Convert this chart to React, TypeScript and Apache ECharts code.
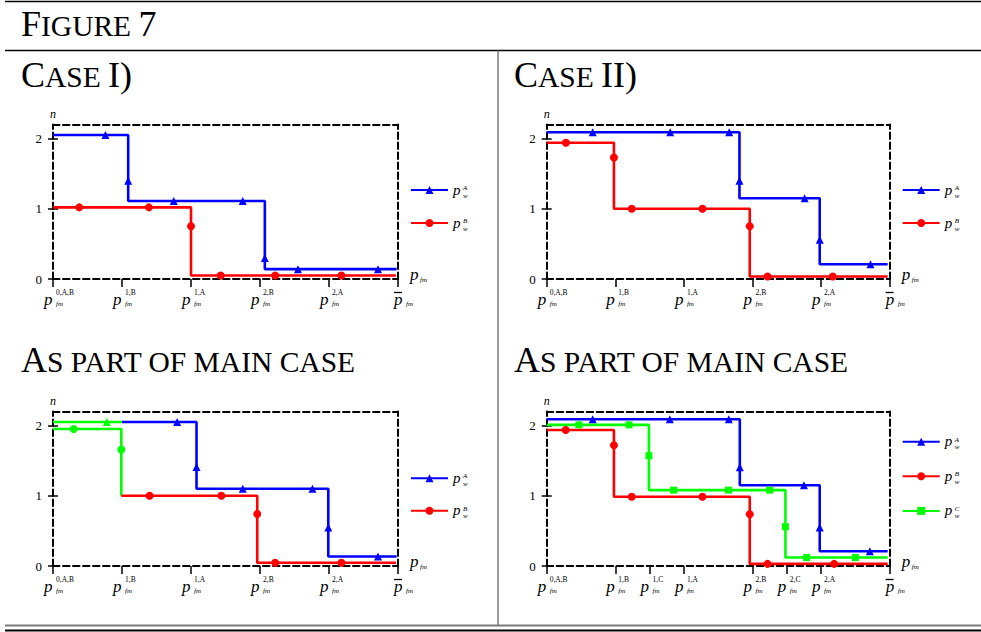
import { useEffect, useRef } from 'react';
import * as echarts from 'echarts';

const SERIF = "'Liberation Serif', 'Times New Roman', serif";
const BLUE = '#0000ff';
const RED = '#ff0000';
const GREEN = '#00ff00';

// ---------- axes ----------
const Y_MIN = 0;
const Y_MAX = 2.2;
const X_MIN = 0;
const X_MAX = 5;
const yTickValues = [0, 1, 2];
const xTicksAB = [0, 1, 2, 3, 4, 5];
// '' marks the p-bar (upper bound) tick
const xSupAB = ['0,A,B', '1,B', '1,A', '2,B', '2,A', ''];
const xTicksABC = [0, 1, 1.5, 2, 3, 3.5, 4, 5];
const xSupABC = ['0,A,B', '1,B', '1,C', '1,A', '2,B', '2,C', '2,A', ''];

// ---------- headings ----------
const figureHeading = ['F', 'IGURE ', '7'];
const caseOneHeading = ['C', 'ASE ', 'I)'];
const caseTwoHeading = ['C', 'ASE ', 'II)'];
const mainCaseHeading = ['A', 'S PART OF MAIN CASE', ''];

// ---------- Case I ----------
const c1A_path = [[0, 2.05], [1.09, 2.05], [1.09, 1.11], [3.07, 1.11], [3.07, 0.14], [4.98, 0.14]];
const c1A_marks = [[0.76, 2.05], [1.09, 1.4], [1.75, 1.11], [2.75, 1.11], [3.07, 0.3], [3.55, 0.14], [4.71, 0.14]];
const c1B_path = [[0, 1.02], [2.0, 1.02], [2.0, 0.05], [4.97, 0.05]];
const c1B_marks = [[0.38, 1.02], [1.39, 1.02], [2.0, 0.75], [2.43, 0.05], [3.22, 0.05], [4.18, 0.05]];

// ---------- Case II ----------
const c2A_path = [[0, 2.09], [2.81, 2.09], [2.81, 1.15], [3.98, 1.15], [3.98, 0.21], [4.97, 0.21]];
const c2A_marks = [[0.67, 2.09], [1.8, 2.09], [2.66, 2.09], [2.81, 1.4], [3.76, 1.15], [3.98, 0.56], [4.72, 0.21]];
const c2B_path = [[0, 1.94], [0.98, 1.94], [0.98, 1.0], [2.96, 1.0], [2.96, 0.035], [4.97, 0.035]];
const c2B_marks = [[0.28, 1.94], [0.98, 1.73], [1.24, 1.0], [2.27, 1.0], [2.96, 0.75], [3.22, 0.035], [4.17, 0.035]];

// ---------- Case I as part of main case ----------
const c3Ag_path = [[0, 2.05], [1.0, 2.05]];
const c3Ag_marks = [[0.78, 2.05]];
const c3A_path = [[1.0, 2.05], [2.08, 2.05], [2.08, 1.1], [3.99, 1.1], [3.99, 0.135], [4.98, 0.135]];
const c3A_marks = [[1.8, 2.05], [2.08, 1.41], [2.75, 1.1], [3.76, 1.1], [3.99, 0.55], [4.71, 0.135]];
const c3Bg_path = [[0, 1.95], [0.99, 1.95], [0.99, 1.0]];
const c3Bg_marks = [[0.3, 1.95], [0.99, 1.66]];
const c3B_path = [[0.99, 1.0], [2.96, 1.0], [2.96, 0.047], [4.97, 0.047]];
const c3B_marks = [[1.4, 1.0], [2.44, 1.0], [2.96, 0.74], [3.22, 0.047], [4.18, 0.047]];

// ---------- Case II as part of main case ----------
const c4A_path = [[0, 2.09], [2.815, 2.09], [2.815, 1.15], [3.98, 1.15], [3.98, 0.209], [4.97, 0.209]];
const c4A_marks = [[0.67, 2.09], [1.795, 2.09], [2.655, 2.09], [2.815, 1.405], [3.75, 1.15], [3.98, 0.55], [4.71, 0.209]];
const c4B_path = [[0, 1.937], [0.98, 1.937], [0.98, 0.987], [2.96, 0.987], [2.96, 0.03], [4.97, 0.03]];
const c4B_marks = [[0.277, 1.937], [0.98, 1.72], [1.24, 0.987], [2.27, 0.987], [2.96, 0.736], [3.22, 0.03], [4.19, 0.03]];
const c4C_path = [[0, 2.01], [1.49, 2.01], [1.49, 1.08], [3.48, 1.08], [3.48, 0.12], [4.97, 0.12]];
const c4C_marks = [[0.47, 2.01], [1.2, 2.01], [1.49, 1.57], [1.85, 1.08], [2.65, 1.08], [3.25, 1.08], [3.48, 0.56], [3.79, 0.12], [4.5, 0.12]];

type Pt = number[];

function merge(path: Pt[], marks: Pt[]) {
  const pts: any[] = path
    .map((p) => ({ value: p, symbol: 'none' }))
    .concat(marks.map((m) => ({ value: m })) as any);
  pts.sort((a, b) => a.value[0] - b.value[0] || b.value[1] - a.value[1]);
  return pts;
}

function curve(name: string, color: string, symbol: string, size: number, path: Pt[], marks: Pt[], gi: number) {
  return {
    type: 'line',
    name,
    xAxisIndex: gi * 2,
    yAxisIndex: gi * 3,
    data: merge(path, marks),
    symbol,
    symbolSize: size,
    showSymbol: true,
    showAllSymbol: true,
    lineStyle: { color, width: 2.6 },
    itemStyle: { color, borderWidth: 0 },
    emphasis: { disabled: true },
    silent: true,
    z: 3,
  };
}

const tickRich = {
  a: { width: 25, lineHeight: 3, align: 'left' },
  sup: { fontFamily: SERIF, fontSize: 7.5, lineHeight: 3, width: 19, color: '#000', align: 'left' },
  b: { width: 13, lineHeight: 10, align: 'left' },
  p: { fontFamily: SERIF, fontStyle: 'italic', fontSize: 17, lineHeight: 10, width: 12, color: '#000', align: 'left' },
  sub: { fontFamily: SERIF, fontStyle: 'italic', fontSize: 7, lineHeight: 10, padding: [10, 0, 0, 0], color: '#000', align: 'left' },
  a2: { width: 18, lineHeight: 3, align: 'left' },
  bar: { width: 8, height: 1.3, lineHeight: 3, backgroundColor: '#000', align: 'left' },
  pad: { width: 18, lineHeight: 3, align: 'left' },
  b2: { width: 18, lineHeight: 10, align: 'left' },
};

function tickFormatter(ticks: number[], sups: string[]) {
  return (v: number) => {
    const i = ticks.findIndex((t) => Math.abs(t - v) < 1e-9);
    const s = i >= 0 ? sups[i] : '';
    if (s === '') return '{a2|}{bar|}{pad|}\n{b2|}{p|p}{sub|fm}';
    return `{a|}{sup|${s}}\n{b|}{p|p}{sub|fm}`;
  };
}

const dash = { color: '#000', width: 2, type: [6.5, 3.5] };

function axesFor(gi: number, ticks: number[], sups: string[]) {
  const xAxes = [
    {
      type: 'value', gridIndex: gi, position: 'bottom', min: X_MIN, max: X_MAX,
      axisLine: { show: true, onZero: false, lineStyle: dash },
      axisTick: { show: true, inside: false, length: 8, customValues: ticks, lineStyle: { color: '#000', width: 1.5 } },
      axisLabel: {
        show: true, customValues: ticks, margin: 12, hideOverlap: false,
        formatter: tickFormatter(ticks, sups), rich: tickRich,
      },
      splitLine: { show: false },
      name: '{p|p}{sub|fm}', nameLocation: 'end', nameGap: 12, nameMoveOverlap: false,
      nameTextStyle: {
        verticalAlign: 'bottom', align: 'left',
        rich: {
          p: { fontFamily: SERIF, fontStyle: 'italic', fontSize: 17, lineHeight: 10, width: 10, color: '#000', align: 'left' },
          sub: { fontFamily: SERIF, fontStyle: 'italic', fontSize: 7, lineHeight: 10, padding: [12, 0, 0, 0], color: '#000', align: 'left' },
        },
      },
    },
    {
      type: 'value', gridIndex: gi, position: 'top', min: X_MIN, max: X_MAX,
      axisLine: { show: true, onZero: false, lineStyle: dash },
      axisTick: { show: false }, axisLabel: { show: false }, splitLine: { show: false },
    },
  ];
  const yAxes = [
    {
      type: 'value', gridIndex: gi, position: 'left', min: Y_MIN, max: Y_MAX,
      axisLine: { show: true, onZero: false, lineStyle: dash },
      axisTick: { show: true, inside: false, length: 5, customValues: yTickValues, lineStyle: { color: '#000', width: 1.5 } },
      axisLabel: { show: true, customValues: yTickValues, margin: 11, color: '#000', fontFamily: SERIF, fontSize: 13 },
      splitLine: { show: false },
      name: 'n', nameLocation: 'end', nameGap: 5, nameMoveOverlap: false,
      nameTextStyle: { fontFamily: SERIF, fontStyle: 'italic', fontSize: 12, color: '#000' },
    },
    {
      type: 'value', gridIndex: gi, position: 'left', offset: 0, min: Y_MIN, max: Y_MAX,
      axisLine: { show: false, onZero: false },
      axisTick: { show: true, inside: true, length: 5, customValues: yTickValues, lineStyle: { color: '#000', width: 1.5 } },
      axisLabel: { show: false }, splitLine: { show: false },
    },
    {
      type: 'value', gridIndex: gi, position: 'right', min: Y_MIN, max: Y_MAX,
      axisLine: { show: true, onZero: false, lineStyle: dash },
      axisTick: { show: false }, axisLabel: { show: false }, splitLine: { show: false },
    },
  ];
  return { xAxes, yAxes };
}

const legendRich = {
  p: { fontFamily: SERIF, fontStyle: 'italic', fontSize: 15, lineHeight: 6, width: 10, padding: [5, 0, 0, 0], color: '#000', align: 'left' },
  sup: { fontFamily: SERIF, fontStyle: 'italic', fontSize: 7, lineHeight: 6, padding: [2, 0, 0, 0], color: '#000', align: 'left' },
  s: { width: 10, lineHeight: 6, align: 'left' },
  sub: { fontFamily: SERIF, fontStyle: 'italic', fontSize: 7, lineHeight: 6, padding: [5, 0, 0, 0], color: '#000', align: 'left' },
};

function legendFor(names: string[], left: number, top: number, gap: number) {
  return {
    data: names, left, top, orient: 'vertical', padding: 0,
    itemWidth: 37, itemHeight: 10, itemGap: gap, selectedMode: false,
    formatter: (n: string) => `{p|p}{sup|${n}}\n{s|}{sub|w}`,
    textStyle: { color: '#000', rich: legendRich },
  };
}

function heading(parts: string[], x: number, yMid: number) {
  const [big1, small, big2] = parts;
  let text = `{B|${big1}}{s|${small}}`;
  if (big2) text += `{B|${big2}}`;
  return {
    type: 'text', x, y: yMid, silent: true,
    style: {
      text, align: 'left', verticalAlign: 'middle', fill: '#000',
      rich: {
        B: { fontFamily: SERIF, fontSize: 36, lineHeight: 36, fill: '#000', align: 'left' },
        s: { fontFamily: SERIF, fontSize: 29.5, lineHeight: 36, padding: [4.4, 0, 0, 0], fill: '#000', align: 'left' },
      },
    },
  };
}

function hline(x1: number, x2: number, y: number, color: string, w: number) {
  return { type: 'line', silent: true, shape: { x1, y1: y, x2, y2: y }, style: { stroke: color, lineWidth: w } };
}

function buildOption() {
  const grids = [
    { left: 53, top: 124.5, width: 345, height: 154.5 },
    { left: 546.7, top: 124.5, width: 343, height: 154.5 },
    { left: 53, top: 411.5, width: 345, height: 154.5 },
    { left: 546.7, top: 411.5, width: 343, height: 154.5 },
  ].map((g) => ({ ...g, show: false, containLabel: false, outerBoundsMode: 'none' }));

  const tickSets: [number[], string[]][] = [
    [xTicksAB, xSupAB], [xTicksAB, xSupAB], [xTicksAB, xSupAB], [xTicksABC, xSupABC],
  ];
  const xAxis: any[] = [];
  const yAxis: any[] = [];
  tickSets.forEach(([t, s], gi) => {
    const a = axesFor(gi, t, s);
    xAxis.push(...a.xAxes);
    yAxis.push(...a.yAxes);
  });

  const series = [
    curve('A', BLUE, 'triangle', 8, c1A_path, c1A_marks, 0),
    curve('B', RED, 'circle', 8, c1B_path, c1B_marks, 0),
    curve('A', BLUE, 'triangle', 8, c2A_path, c2A_marks, 1),
    curve('B', RED, 'circle', 8, c2B_path, c2B_marks, 1),
    curve('A (part)', GREEN, 'triangle', 8, c3Ag_path, c3Ag_marks, 2),
    curve('B (part)', GREEN, 'circle', 8, c3Bg_path, c3Bg_marks, 2),
    curve('A', BLUE, 'triangle', 8, c3A_path, c3A_marks, 2),
    curve('B', RED, 'circle', 8, c3B_path, c3B_marks, 2),
    curve('A', BLUE, 'triangle', 8, c4A_path, c4A_marks, 3),
    curve('B', RED, 'circle', 8, c4B_path, c4B_marks, 3),
    curve('C', GREEN, 'rect', 7, c4C_path, c4C_marks, 3),
  ];

  const legend = [
    legendFor(['A', 'B'], 410, 177, 11),
    legendFor(['A', 'B'], 901.7, 177, 11),
    legendFor(['A', 'B'], 410, 465.3, 10.4),
    legendFor(['A', 'B', 'C'], 901.7, 428.7, 12.6),
  ];

  const graphic = [
    hline(5, 981, 1.5, '#000', 1.5),
    hline(5, 981, 50.5, '#000', 1.5),
    { type: 'line', silent: true, shape: { x1: 498, y1: 50.5, x2: 498, y2: 625 }, style: { stroke: '#7a7a7a', lineWidth: 1.5 } },
    hline(5, 981, 625.5, '#7a7a7a', 1.8),
    hline(5, 981, 630.5, '#000', 2),
    heading(figureHeading, 21, 24),
    heading(caseOneHeading, 21, 74.5),
    heading(caseTwoHeading, 514, 74.5),
    heading(mainCaseHeading, 21, 360),
    heading(mainCaseHeading, 514, 360),
  ];

  return {
    animation: false,
    backgroundColor: '#fff',
    textStyle: { fontFamily: SERIF, color: '#000' },
    grid: grids,
    xAxis,
    yAxis,
    legend,
    series,
    graphic,
    tooltip: { show: false },
  };
}

export default function App() {
  const ref = useRef<HTMLDivElement>(null);
  useEffect(() => {
    const chart = echarts.init(ref.current!, null, { renderer: 'svg' });
    chart.setOption(buildOption() as any);
    return () => chart.dispose();
  }, []);
  return (
    <div
      ref={ref}
      style={{ position: 'absolute', left: 0, top: 0, width: 981, height: 632, background: '#fff' }}
    />
  );
}
